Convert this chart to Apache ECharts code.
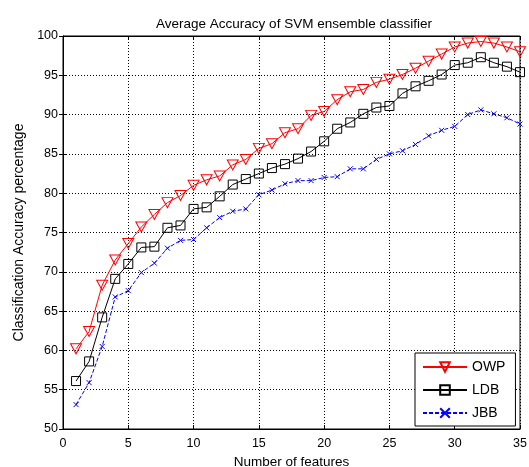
<!DOCTYPE html>
<html><head><meta charset="utf-8">
<script src="https://cdn.jsdelivr.net/npm/echarts@6/dist/echarts.min.js"></script>
<style>html,body{margin:0;padding:0;background:#fff}#c{width:529px;height:467px}</style>
</head><body><div id="c"></div>
<script>
const features = [1,2,3,4,5,6,7,8,9,10,11,12,13,14,15,16,17,18,19,20,21,22,23,24,25,26,27,28,29,30,31,32,33,34,35];
const owp = [60.2,62.4,68.3,71.5,73.6,75.7,77.3,78.8,79.7,81.0,81.7,82.2,83.6,84.3,85.7,86.3,87.7,88.2,89.9,90.4,91.9,92.9,93.2,94.1,94.5,95.1,95.9,96.8,97.7,98.6,99.1,99.3,99.1,98.6,98.0];
const ldb = [56.1,58.6,64.2,69.1,71.0,73.1,73.2,75.6,75.9,78.0,78.2,79.6,81.1,81.8,82.5,83.2,83.7,84.4,85.3,86.6,88.2,89.0,90.1,90.9,91.1,92.7,93.6,94.3,95.1,96.3,96.6,97.3,96.6,96.1,95.4];
const jbb = [53.1,55.9,60.5,66.8,67.6,69.9,71.1,73.0,74.0,74.1,75.6,76.9,77.7,78.0,79.8,80.4,81.2,81.6,81.6,82.0,82.1,83.1,83.1,84.3,85.0,85.4,86.2,87.3,88.0,88.5,90.0,90.6,90.1,89.6,88.8];
const xTicks = [0,5,10,15,20,25,30,35];
const yTicks = [50,55,60,65,70,75,80,85,90,95,100];

const pair = (v) => features.map((f,i)=>[f,v[i]]);
const font = 'Liberation Sans, Arial, sans-serif';
const triDown = 'path://M0,0 L10,0 L5,9 Z';
const cross = 'path://M0,0 L10,10 M10,0 L0,10';
const chart = echarts.init(document.getElementById('c'));
const gridLine = {show:true, lineStyle:{color:'#000', type:[1,2], width:1}};
chart.setOption({
  animation:false,
  title:{text:'Average Accuracy of SVM ensemble classifier', left:289, top:12, textAlign:'center',
    textStyle:{fontFamily:font, fontSize:13.5, fontWeight:'normal', color:'#000'}},
  grid:{left:63, right:9, top:36, bottom:38, outerBoundsMode:'none', containLabel:false,
    show:true, borderColor:'#000', borderWidth:1, backgroundColor:'#fff'},
  legend:{orient:'vertical', left:415, top:353, padding:[7,10,6,7], itemWidth:44, itemHeight:12, itemGap:9,
    borderColor:'#000', borderWidth:1, backgroundColor:'#fff',
    textStyle:{fontFamily:font, fontSize:14, color:'#000'}},
  xAxis:[{type:'value', min:0, max:35, interval:5, name:'Number of features', nameLocation:'middle', nameGap:22,
    nameTextStyle:{fontFamily:font, fontSize:13.5, color:'#000'},
    axisLine:{lineStyle:{color:'#000'}}, axisTick:{inside:true, length:4, lineStyle:{color:'#000'}},
    axisLabel:{fontFamily:font, fontSize:12.5, color:'#000', margin:8,
      formatter:(v)=>xTicks.includes(v)?String(v):''},
    splitLine:gridLine},
    {type:'value', position:'top', min:0, max:35, interval:5, axisLine:{lineStyle:{color:'#000'}},
    axisTick:{inside:true, length:4, lineStyle:{color:'#000'}}, axisLabel:{show:false}, splitLine:{show:false}}],
  yAxis:[{type:'value', min:50, max:100, interval:5, name:'Classification Accuracy percentage', nameLocation:'middle', nameGap:31,
    nameTextStyle:{fontFamily:font, fontSize:14, color:'#000'},
    axisLine:{show:true, lineStyle:{color:'#000'}}, axisTick:{show:true, inside:true, length:4, lineStyle:{color:'#000'}},
    axisLabel:{fontFamily:font, fontSize:12.5, color:'#000', margin:5,
      formatter:(v)=>yTicks.includes(v)?String(v):''},
    splitLine:gridLine},
    {type:'value', position:'right', min:50, max:100, interval:5, axisLine:{show:true, lineStyle:{color:'#000'}},
    axisTick:{show:true, inside:true, length:4, lineStyle:{color:'#000'}}, axisLabel:{show:false}, splitLine:{show:false}}],
  series:[
    {name:'OWP', type:'line', data:pair(owp), symbol:triDown, symbolSize:[11,10], showAllSymbol:true,
      lineStyle:{color:'#ff0000', width:1}, itemStyle:{color:'rgba(0,0,0,0)', borderColor:'#ff0000', borderWidth:1}},
    {name:'LDB', type:'line', data:pair(ldb), symbol:'rect', symbolSize:9, showAllSymbol:true,
      lineStyle:{color:'#000', width:1}, itemStyle:{color:'rgba(0,0,0,0)', borderColor:'#000', borderWidth:1}},
    {name:'JBB', type:'line', data:pair(jbb), symbol:cross, symbolSize:5, showAllSymbol:true,
      lineStyle:{color:'#0000ff', width:1, type:[4,2]}, itemStyle:{color:'rgba(0,0,0,0)', borderColor:'#0000ff', borderWidth:1}}
  ]
});
</script></body></html>
